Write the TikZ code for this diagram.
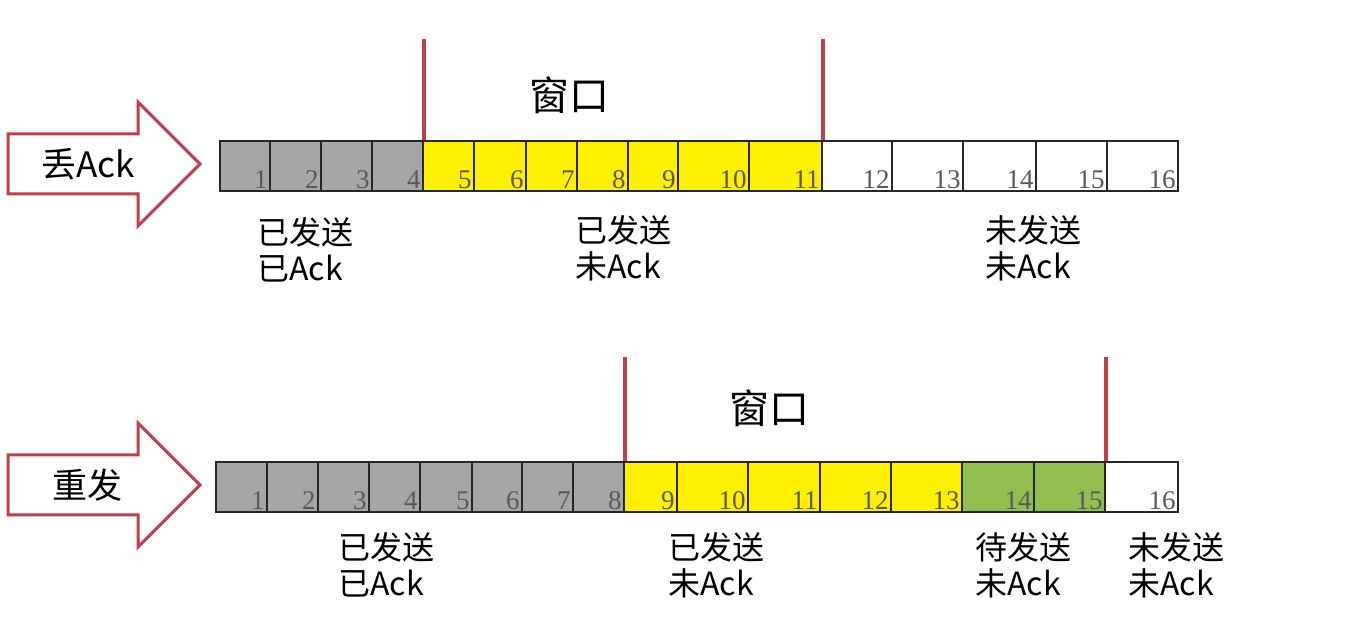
\documentclass[tikz,border=0pt]{standalone}
\usepackage{fontspec}
\setmainfont{Liberation Serif}
\newfontfamily\cjk{Noto Sans CJK SC}
\usetikzlibrary{positioning}
\definecolor{ackgray}{HTML}{A6A6A6}
\definecolor{winyellow}{HTML}{FFF000}
\definecolor{waitgreen}{HTML}{92C050}
\definecolor{winred}{HTML}{C23F4A}

\begin{document}
\begin{tikzpicture}[x=0.5pt,y=-0.5pt,
  cell/.style={draw=black!85, line width=0.9pt, inner sep=0pt, minimum height=25pt},
  num/.style={font=\fontsize{13.5}{13.5}\selectfont, text=black!65, anchor=south east, inner sep=1.5pt},
  lbl/.style={font=\cjk\fontsize{16}{18}\selectfont, align=left, anchor=west, inner sep=0pt},
  wintext/.style={font=\cjk\fontsize{20}{20}\selectfont},
  winline/.style={draw=winred, line width=1.6pt},
  bigarrow/.style={draw=winred, line width=1.5pt, fill=white, line join=miter}]
\useasboundingbox (0,0) rectangle (1351,619);

% Big arrows on the left
\foreach \yc/\txt/\nm in {164/丢Ack/lose, 485/重发/resend} {
  \draw[bigarrow] (8,\yc-30) -- (138,\yc-30) -- (138,\yc-62) -- (200,\yc)
    -- (138,\yc+62) -- (138,\yc+30) -- (8,\yc+30) -- cycle;
  \node[font=\cjk\fontsize{17.5}{17.5}\selectfont] (\nm) at (88,\yc) {\txt};
}

% Top row: Ack lost
\foreach \n/\xa/\xb/\col in {1/220/270/ackgray, 2/270/321/ackgray, 3/321/372/ackgray,
    4/372/423/ackgray, 5/423/474/winyellow, 6/474/526/winyellow, 7/526/577/winyellow,
    8/577/628/winyellow, 9/628/678/winyellow, 10/678/749/winyellow, 11/749/822/winyellow,
    12/822/892/white, 13/892/963/white, 14/963/1036/white, 15/1036/1107/white,
    16/1107/1178/white} {
  \node[cell, fill=\col, minimum width={(\xb-\xa)*0.5pt}] (a\n) at ({(\xa+\xb)/2},166) {};
  \node[num] at (a\n.south east) {\n};
}
\draw[winline] (a4.north east) -- ++(0,-101);
\draw[winline] (a11.north east) -- ++(0,-101);
\node[wintext] (win1) at (569,95) {窗口};

\node[lbl] (a-acked) at (257,250) {已发送\\已Ack};
\node[lbl] (a-sent) at (575,248) {已发送\\未Ack};
\node[lbl] (a-unsent) at (985,248) {未发送\\未Ack};

% Bottom row: resend
\foreach \n/\xa/\xb/\col in {1/216/267/ackgray, 2/267/318/ackgray, 3/318/369/ackgray,
    4/369/420/ackgray, 5/420/472/ackgray, 6/472/522/ackgray, 7/522/573/ackgray,
    8/573/624/ackgray, 9/624/677/winyellow, 10/677/748/winyellow, 11/748/820/winyellow,
    12/820/891/winyellow, 13/891/962/winyellow, 14/962/1034/waitgreen,
    15/1034/1105/waitgreen, 16/1105/1178/white} {
  \node[cell, fill=\col, minimum width={(\xb-\xa)*0.5pt}] (b\n) at ({(\xa+\xb)/2},487) {};
  \node[num] at (b\n.south east) {\n};
}
\draw[winline] (b8.north east) -- ++(0,-104);
\draw[winline] (b15.north east) -- ++(0,-104);
\node[wintext] (win2) at (769,408) {窗口};

\node[lbl] (b-acked) at (338,565) {已发送\\已Ack};
\node[lbl] (b-sent) at (668,565) {已发送\\未Ack};
\node[lbl] (b-wait) at (975,565) {待发送\\未Ack};
\node[lbl] (b-unsent) at (1128,565) {未发送\\未Ack};
\end{tikzpicture}
\end{document}
